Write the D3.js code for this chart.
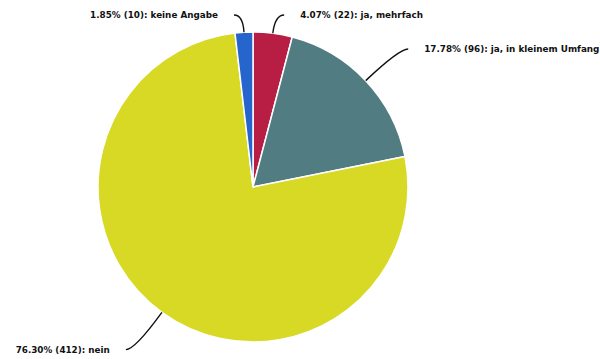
<!DOCTYPE html>
<html>
<head>
<meta charset="utf-8">
<script src="https://cdn.jsdelivr.net/npm/d3@7"></script>
<style>
  html, body { margin: 0; padding: 0; background: #ffffff; }
  svg { display: block; }
  .lbl { font-family: "DejaVu Sans", sans-serif; font-weight: bold; font-size: 8.8px; fill: #111; }
</style>
</head>
<body>
<div id="chart"></div>
<script>
// Answer categories and counts
const categories = ["ja, mehrfach", "ja, in kleinem Umfang", "nein", "keine Angabe"];
const counts = [22, 96, 412, 10];
const percents = [4.07, 17.78, 76.30, 1.85];
const colors = ["#b81e44", "#507c82", "#d8d925", "#2565cc"];

const W = 600, H = 359;
const cx = 253, cy = 187, R = 155;
const elbowR = R + 46;       // radius where leader lines turn horizontal
const yMin = 15, yMax = 350; // leader rows stay within the canvas
const tail = 9, gap = 16;

const svg = d3.select("#chart").append("svg")
  .attr("width", W).attr("height", H);

const data = categories.map((c, i) => ({ name: c, count: counts[i], pct: percents[i], color: colors[i] }));

const pie = d3.pie().sort(null).value(d => d.count);
const arc = d3.arc().innerRadius(0).outerRadius(R);
const arcs = pie(data);

const g = svg.append("g").attr("transform", `translate(${cx},${cy})`);

g.selectAll("path.slice")
  .data(arcs)
  .join("path")
  .attr("class", "slice")
  .attr("d", arc)
  .attr("fill", d => d.data.color)
  .attr("stroke", "#ffffff")
  .attr("stroke-width", 1.5)
  .attr("stroke-linejoin", "round");

// Leader lines and labels
arcs.forEach(a => {
  const mid = (a.startAngle + a.endAngle) / 2;
  const sx = Math.sin(mid), sy = -Math.cos(mid);
  const p0 = [sx * R, sy * R];
  let ey = sy * elbowR;
  ey = Math.max(yMin - cy, Math.min(yMax - cy, ey));
  const t = (ey - p0[1]) / sy;
  const ex = p0[0] + sx * t;
  const dir = sx >= 0 ? 1 : -1;
  const endX = ex + dir * tail;

  const path = d3.path();
  path.moveTo(p0[0], p0[1]);
  path.quadraticCurveTo(ex, ey, endX, ey);
  g.append("path")
    .attr("d", path.toString())
    .attr("fill", "none")
    .attr("stroke", "#111")
    .attr("stroke-width", 1.4);

  g.append("text")
    .attr("class", "lbl")
    .attr("x", endX + dir * gap)
    .attr("y", ey)
    .attr("dy", "0.35em")
    .attr("text-anchor", dir > 0 ? "start" : "end")
    .text(`${a.data.pct.toFixed(2)}% (${a.data.count}): ${a.data.name}`);
});
</script>
</body>
</html>
